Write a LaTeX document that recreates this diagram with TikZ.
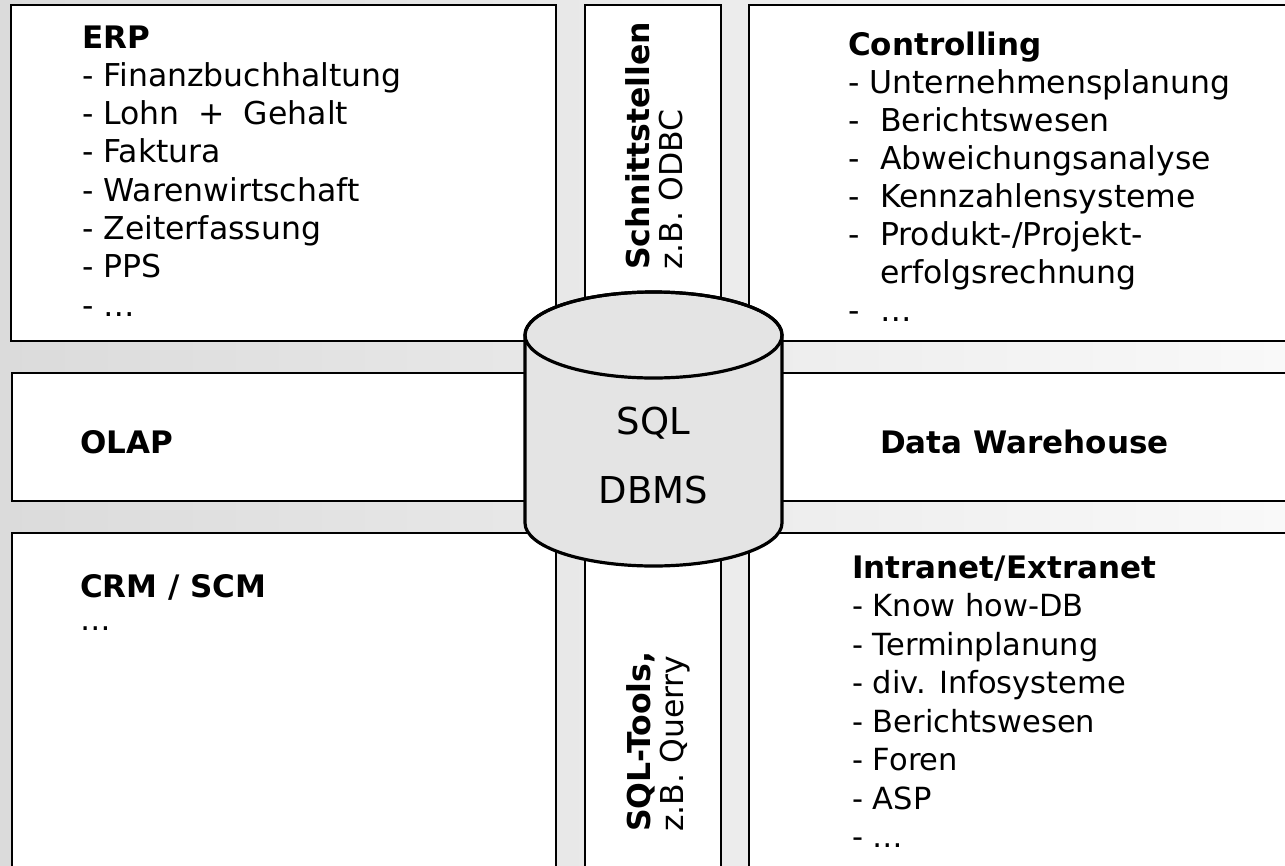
\documentclass[tikz,border=0pt]{standalone}
\usepackage{fontspec}
\setmainfont{DejaVu Sans}
\definecolor{bgleft}{RGB}{219,219,219}
\definecolor{bgright}{RGB}{249,249,249}
\definecolor{dbfill}{RGB}{228,228,228}
\newcommand{\dashitem}[1]{\makebox[32pt][l]{-}#1}
\tikzset{
  panel/.style={draw=black, line width=1.8pt, fill=white},
  ttl/.style={anchor=base west, inner sep=0pt, font=\fontsize{31}{36}\selectfont\bfseries},
  itm/.style={anchor=base west, inner sep=0pt, font=\fontsize{30.5}{35}\selectfont},
  lstitm/.style={anchor=base west, inner sep=0pt, font=\fontsize{31.5}{36}\selectfont},
  vert/.style={rotate=90, anchor=west, inner sep=0pt, align=left, font=\fontsize{31.5}{33}\selectfont},
  dbtext/.style={inner sep=0pt, font=\fontsize{37}{42}\selectfont},
  dbline/.style={draw=black, line width=3.2pt}
}
\begin{document}
\begin{tikzpicture}[x=1pt,y=-1pt]
  \useasboundingbox (0,0) rectangle (1285,865);
  \clip (0,0) rectangle (1285,865);
  % background with a soft left-to-right shade
  \shade[left color=bgleft, right color=bgright] (0,0) rectangle (1285,865);

  % panels
  \path[panel] (11,5) rectangle (556,341);
  \path[panel] (585,5) rectangle (721,341);
  \path[panel] (749,5) rectangle (1300,341);
  \path[panel] (12,373) rectangle (600,501);
  \path[panel] (700,373) rectangle (1300,501);
  \path[panel] (12,533) rectangle (556,880);
  \path[panel] (585,533) rectangle (721,880);
  \path[panel] (749,533) rectangle (1300,880);

  % ERP
  \node[ttl] (erp) at (82,48) {ERP};
  \node[lstitm] (erp1) at (82,86.5) {- Finanzbuchhaltung};
  \node[lstitm] (erp2) at (82,124.8) {- Lohn\hspace{0.6em}+\hspace{0.6em}Gehalt};
  \foreach \t [count=\i from 3] in {Faktura, Warenwirtschaft, Zeiterfassung, PPS, \dots}
    \node[lstitm] (erp\i) at (82,48+38.3*\i) {- \t};

  % Controlling
  \node[ttl] (ctl) at (848,55) {Controlling};
  \node[lstitm] (ctl1) at (848,93) {- Unternehmensplanung};
  \foreach \t [count=\i from 2] in {Berichtswesen, Abweichungsanalyse, Kennzahlensysteme, Produkt-/Projekt-}
    \node[lstitm] (ctl\i) at (848,55+38*\i) {\dashitem{\t}};
  \node[lstitm] (ctl6) at (880,283) {erfolgsrechnung};
  \node[lstitm] (ctl7) at (848,321) {\dashitem{\dots}};

  % middle row
  \node[ttl] (olap) at (80,453) {OLAP};
  \node[ttl] (dwh) at (880,453) {Data Warehouse};

  % CRM / SCM
  \node[ttl] (crm) at (80,597) {CRM / SCM};
  \node[itm] (crm1) at (80,630) {\dots};

  % Intranet / Extranet
  \node[ttl] (inet) at (852,578) {Intranet/Extranet};
  \foreach \t [count=\i] in {Know how-DB, Terminplanung, div. Infosysteme, Berichtswesen, Foren, ASP, \dots}
    \node[itm] (inet\i) at (852,578+38.5*\i) {- \t};

  % vertical labels
  \node[vert] (ifc) at (654,270) {\textbf{Schnittstellen}\\z.B. ODBC};
  \node[vert] (sqlt) at (658,832) {\textbf{SQL-Tools,}\\z.B. Querry};

  % database cylinder
  \path[dbline, fill=dbfill] (525,335) -- (525,523)
    arc[start angle=180, end angle=0, x radius=128.5, y radius=43]
    -- (782,335)
    arc[start angle=0, end angle=-180, x radius=128.5, y radius=43] -- cycle;
  \draw[dbline] (653.5,335) ellipse [x radius=128.5, y radius=43];
  \node[dbtext] (sql) at (653.5,423) {SQL};
  \node[dbtext] (dbms) at (653.5,490) {DBMS};
\end{tikzpicture}
\end{document}
